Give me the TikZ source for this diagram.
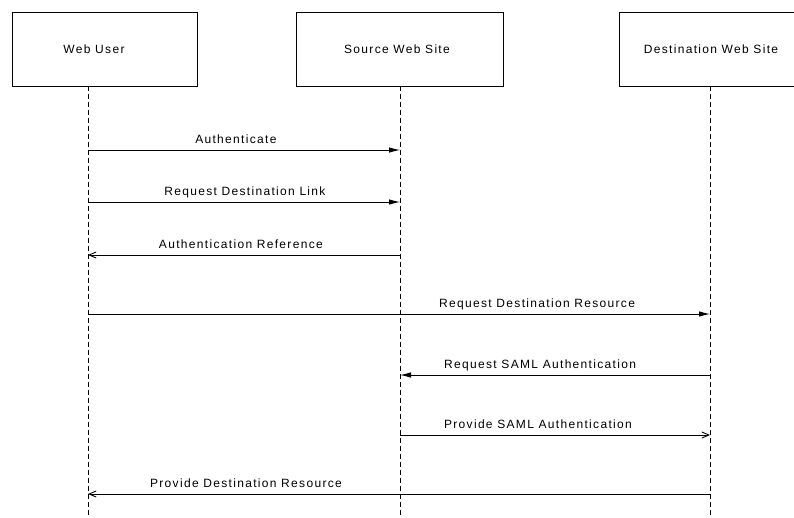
\documentclass[tikz,border=0pt]{standalone}
\usepackage{fontspec}
\setmainfont{Liberation Sans}[LetterSpace=11]
\usetikzlibrary{arrows.meta}
\begin{document}
\begin{tikzpicture}[x=1pt,y=-1pt,
  actor/.style={draw, line width=0.9pt, minimum height=74pt, inner sep=0pt},
  txt/.style={font=\fontsize{12}{14}\selectfont, inner sep=0pt},
  life/.style={line width=0.9pt, dash pattern=on 5pt off 3pt},
  lbl/.style={font=\fontsize{12}{14}\selectfont, inner sep=0pt, anchor=base, yshift=6.5pt},
  msgfill/.style={line width=0.9pt, -{Latex[length=11pt,width=5.5pt]}},
  msgopen/.style={line width=0.9pt, -{Straight Barb[length=7pt,width=6pt]}}]
\useasboundingbox (0,0) rectangle (794,517);
\clip (0,0) rectangle (794,517);
\fill[white] (0,0) rectangle (794,517);

% participant boxes
\node[actor, minimum width=185pt] (user) at (104.5,49) {};
\node[actor, minimum width=207pt] (src) at (399.5,49) {};
\node[actor, minimum width=182pt] (dst) at (710,49) {};
\node[txt] (usertxt) at (94,49) {Web User};
\node[txt] (srctxt) at (397,49) {Source Web Site};
\node[txt] (dsttxt) at (711,49) {Destination Web Site};

% lifelines
\coordinate (ubot) at (88,517);
\coordinate (sbot) at (400,517);
\coordinate (dbot) at (710,517);
\draw[life] (ubot |- user.south) -- (ubot);
\draw[life] (sbot |- src.south) -- (sbot);
\draw[life] (dbot |- dst.south) -- (dbot);

% message end points
\coordinate (u1) at (88,150);  \coordinate (s1) at (400,150);
\coordinate (u2) at (88,202);  \coordinate (s2) at (400,202);
\coordinate (u3) at (88,255);  \coordinate (s3) at (400,255);
\coordinate (u4) at (88,314);  \coordinate (d4) at (710,314);
\coordinate (s5) at (400,375); \coordinate (d5) at (710,375);
\coordinate (s6) at (400,435); \coordinate (d6) at (710,435);
\coordinate (u7) at (88,494);  \coordinate (d7) at (710,494);

% messages
\draw[msgfill] (u1) -- node[lbl, pos=0.474] {Authenticate} (s1);
\draw[msgfill] (u2) -- node[lbl, pos=0.503] {Request Destination Link} (s2);
\draw[msgopen] (s3) -- node[lbl, pos=0.51] {Authentication Reference} (u3);
\draw[msgfill] (u4) -- node[lbl, pos=0.722] {Request Destination Resource} (d4);
\draw[msgfill] (d5) -- node[lbl, pos=0.548] {Request SAML Authentication} (s5);
\draw[msgopen] (s6) -- node[lbl, pos=0.445] {Provide SAML Authentication} (d6);
\draw[msgopen] (d7) -- node[lbl, pos=0.746] {Provide Destination Resource} (u7);
\end{tikzpicture}
\end{document}
